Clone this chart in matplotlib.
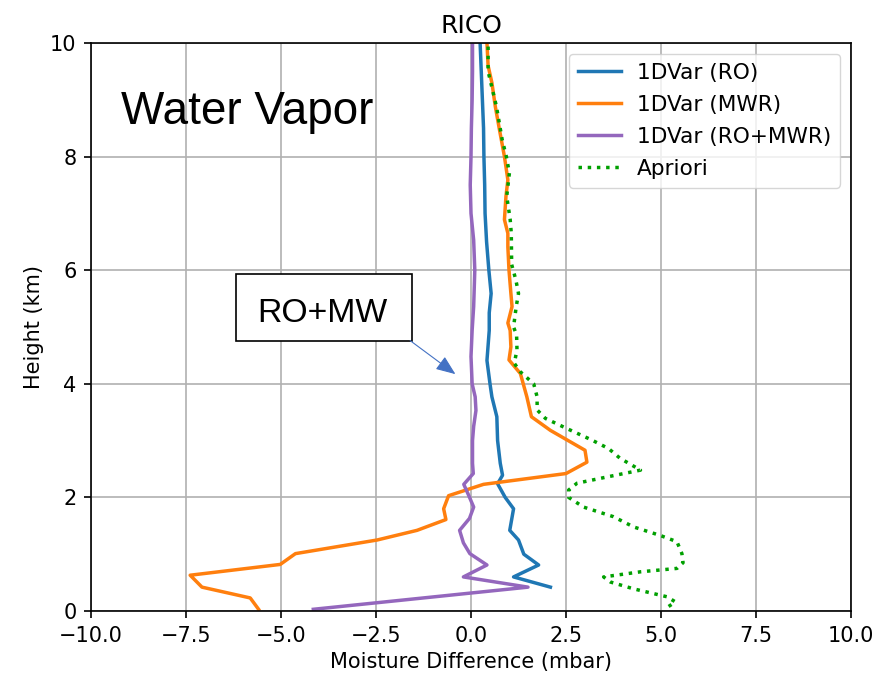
import matplotlib
matplotlib.use("Agg")
import matplotlib.pyplot as plt
from matplotlib.patches import Rectangle

# ---- data ----
h_ro = [0.42, 0.6, 0.81, 1.0, 1.25, 1.42, 1.8, 2.0, 2.24, 2.39, 2.6, 3.0, 3.42, 3.77,
        4.0, 4.41, 4.94, 5.25, 5.59, 6.0, 6.5, 7.0, 7.5, 8.0, 8.5, 9.0, 9.5, 10.0]
x_ro = [2.09, 1.12, 1.78, 1.39, 1.25, 1.02, 1.12, 0.9, 0.7, 0.83, 0.77, 0.7, 0.68, 0.55,
        0.5, 0.42, 0.48, 0.48, 0.53, 0.47, 0.41, 0.37, 0.36, 0.34, 0.33, 0.3, 0.27, 0.24]

h_mwr = [0.03, 0.23, 0.42, 0.63, 0.82, 1.01, 1.25, 1.42, 1.61, 1.8, 2.03, 2.23, 2.42,
         2.62, 2.83, 3.18, 3.42, 3.77, 4.18, 4.42, 4.65, 4.94, 5.07, 5.36, 5.59, 6.0,
         6.41, 6.65, 6.89, 7.3, 7.59, 8.0, 8.47, 8.88, 9.3, 9.6, 10.0]
x_mwr = [-5.59, -5.81, -7.08, -7.39, -5.02, -4.62, -2.47, -1.42, -0.66, -0.72, -0.59,
         0.33, 2.5, 3.05, 3.0, 2.09, 1.59, 1.47, 1.3, 1.0, 1.05, 1.03, 0.97, 1.08, 1.05,
         1.0, 0.97, 0.97, 0.88, 0.92, 0.97, 0.88, 0.75, 0.64, 0.55, 0.45, 0.42]

h_both = [0.03, 0.42, 0.6, 0.81, 1.01, 1.2, 1.42, 1.63, 1.83, 2.05, 2.23, 2.42, 2.6,
          3.0, 3.25, 3.53, 3.77, 4.0, 4.48, 4.94, 5.36, 6.0, 6.53, 7.0, 7.5, 8.0, 8.5,
          9.0, 9.5, 10.0]
x_both = [-4.15, 1.5, -0.2, 0.42, -0.03, -0.2, -0.3, -0.04, 0.07, -0.07, -0.19, 0.06,
          0.04, 0.04, 0.07, 0.13, 0.11, 0.03, 0.0, 0.03, 0.07, 0.1, 0.07, 0.0, -0.02,
          0.0, 0.01, 0.03, 0.04, 0.04]

h_apr = [0.08, 0.16, 0.25, 0.39, 0.51, 0.6, 0.69, 0.75, 0.85, 1.01, 1.22, 1.33, 1.48,
         1.66, 1.83, 2.0, 2.13, 2.25, 2.36, 2.48, 2.69, 2.86, 3.01, 3.21, 3.39, 3.54,
         3.77, 4.0, 4.21, 4.36, 4.6, 4.86, 5.0, 5.36, 5.59, 5.83, 6.1, 6.65, 6.9, 7.3,
         7.71, 8.0, 8.3, 8.88, 9.5, 10.0]
x_apr = [5.2, 5.38, 5.16, 4.28, 3.67, 3.49, 4.46, 5.42, 5.58, 5.55, 5.42, 4.98, 4.28,
         3.75, 2.96, 2.57, 2.57, 2.79, 3.58, 4.46, 3.92, 3.62, 3.18, 2.53, 1.96, 1.74,
         1.74, 1.65, 1.3, 1.14, 1.21, 1.2, 1.12, 1.19, 1.25, 1.18, 1.07, 1.06, 1.03,
         0.94, 1.01, 0.93, 0.82, 0.67, 0.45, 0.45]

labels = ["1DVar (RO)", "1DVar (MWR)", "1DVar (RO+MWR)", "Apriori"]
title = "RICO"
xlabel = "Moisture Difference (mbar)"
ylabel = "Height (km)"

# ---- figure ----
S = 1.5
plt.rcParams.update({
    "font.size": 10 * S,
    "axes.linewidth": 0.8 * S,
    "xtick.major.width": 0.8 * S, "ytick.major.width": 0.8 * S,
    "xtick.major.size": 3.5 * S, "ytick.major.size": 3.5 * S,
    "xtick.major.pad": 3.5 * S, "ytick.major.pad": 3.5 * S,
})
fig = plt.figure(figsize=(8.87, 6.75), dpi=100)
ax = fig.add_axes([91 / 887, 1 - 611 / 675, 760 / 887, 568 / 675])

lw = 2.5
ax.plot(x_ro, h_ro, color="#1f77b4", lw=lw, label=labels[0])
ax.plot(x_mwr, h_mwr, color="#ff7f0e", lw=lw, label=labels[1])
ax.plot(x_both, h_both, color="#9467bd", lw=lw, label=labels[2])
ax.plot(x_apr, h_apr, color="#00a000", lw=lw, ls=":", label=labels[3])

ax.set_xlim(-10, 10)
ax.set_ylim(0, 10)
ax.set_xticks([-10, -7.5, -5, -2.5, 0, 2.5, 5, 7.5, 10])
ax.set_yticks([0, 2, 4, 6, 8, 10])
ax.grid(True, color="#b0b0b0", lw=0.8 * S)
ax.set_axisbelow(True)
ax.set_title(title, fontsize=12 * S, pad=5 * S)
ax.set_xlabel(xlabel, labelpad=3 * S)
ax.set_ylabel(ylabel, labelpad=3 * S)
ax.legend(loc="upper right", fontsize=15.6, borderaxespad=0.5, labelspacing=0.56,
          handlelength=2.0, handletextpad=0.75)

# overlay annotations
ax.text(0.040, 0.857, "Water Vapor", transform=ax.transAxes, family="Liberation Sans",
        fontsize=33, ha="left", va="baseline")
ax.add_patch(Rectangle((0.1908, 0.4759), 0.2312, 0.1175, transform=ax.transAxes,
                       facecolor="white", edgecolor="black", lw=1.2, zorder=5))
ax.text(0.2193, 0.5093, "RO+MW", transform=ax.transAxes, family="Liberation Sans",
        fontsize=24.3, ha="left", va="baseline", zorder=6)
ax.annotate("", xy=(-0.41, 4.17), xytext=(-1.6, 4.76),
            arrowprops=dict(arrowstyle="-|>,head_length=0.6,head_width=0.24",
                            mutation_scale=20, color="#4472C4", lw=0.8,
                            shrinkA=0, shrinkB=0), zorder=6)

fig.savefig("out.png", dpi=100)
